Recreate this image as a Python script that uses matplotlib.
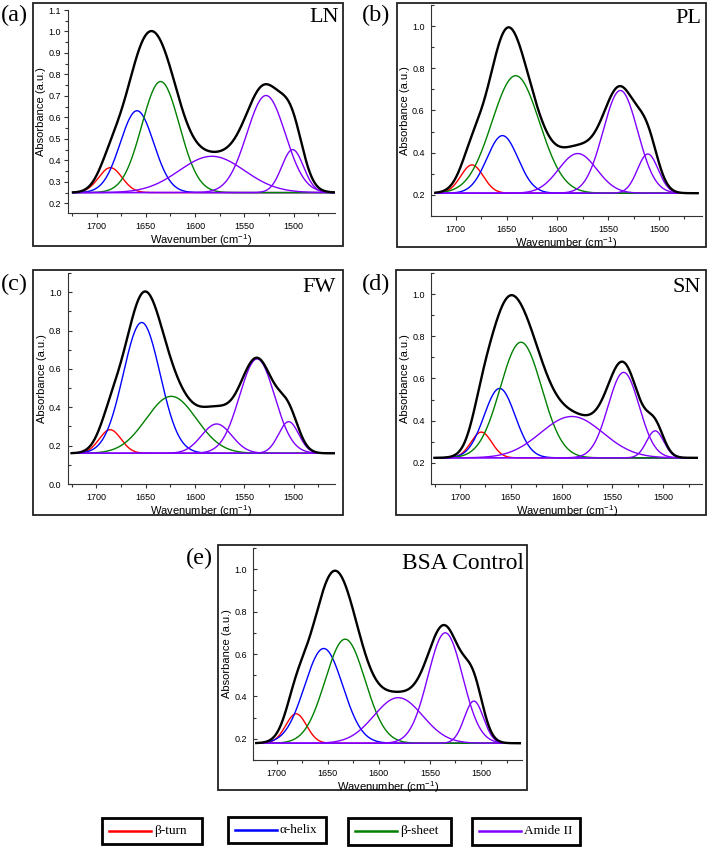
import numpy as np
import matplotlib
matplotlib.use('Agg')
import matplotlib.pyplot as plt
from matplotlib.patches import Rectangle
from matplotlib.lines import Line2D
from matplotlib.ticker import MultipleLocator, FormatStrFormatter

# ---------------- data ----------------
structures = ['β-turn', 'α-helix', 'β-sheet', 'Amide II']
struct_colors = ['#FF0000', '#0000FF', '#008000', '#8000FF']
component_struct = [0, 1, 2, 3, 3, 3]   # structure of each fitted band

panel_letters = ['(a)', '(b)', '(c)', '(d)', '(e)']
panel_names = ['LN', 'PL', 'FW', 'SN', 'BSA Control']

# band centres (cm-1), band maxima (absorbance), band FWHM (cm-1), baseline
ln_centers = [1686, 1659, 1635, 1583, 1528, 1501]
ln_peaks   = [0.366, 0.631, 0.767, 0.419, 0.702, 0.450]
ln_fwhm    = [28, 40, 45, 78, 46, 26]
ln_base    = 0.25

pl_centers = [1684, 1654, 1641, 1580, 1538, 1511]
pl_peaks   = [0.342, 0.481, 0.765, 0.396, 0.695, 0.394]
pl_fwhm    = [26, 36, 55, 44, 40, 24]
pl_base    = 0.208

fw_centers = [1686, 1654, 1624, 1578, 1537, 1505]
fw_peaks   = [0.283, 0.842, 0.457, 0.313, 0.652, 0.325]
fw_fwhm    = [26, 44, 60, 36, 42, 24]
fw_base    = 0.160

sn_centers = [1679, 1661, 1640, 1590, 1539, 1508]
sn_peaks   = [0.346, 0.553, 0.772, 0.420, 0.629, 0.352]
sn_fwhm    = [24, 36, 48, 72, 36, 20]
sn_base    = 0.224

bsa_centers = [1681, 1654, 1633, 1581, 1535, 1507]
bsa_peaks   = [0.318, 0.626, 0.670, 0.394, 0.700, 0.378]
bsa_fwhm    = [24, 44, 46, 56, 40, 22]
bsa_base    = 0.179

# spectral range of each panel (cm-1)
x_start = [1724, 1720, 1725, 1725, 1720]
x_end   = [1459, 1462, 1458, 1467, 1462]

all_centers = [ln_centers, pl_centers, fw_centers, sn_centers, bsa_centers]
all_peaks = [ln_peaks, pl_peaks, fw_peaks, sn_peaks, bsa_peaks]
all_fwhm = [ln_fwhm, pl_fwhm, fw_fwhm, sn_fwhm, bsa_fwhm]
all_base = [ln_base, pl_base, fw_base, sn_base, bsa_base]

# ---------------- layout (pixels of the 708x847 figure) ----------------
W, H = 708, 847
frames = [(33, 3, 343, 246), (397, 3, 706, 247), (33, 270, 343, 515),
          (396, 270, 706, 515), (218, 545, 527, 790)]
axes_px = [(68, 335, 10, 213), (431, 702, 5, 216), (67.7, 335, 273, 484),
           (431.3, 702, 273, 484), (253.3, 522, 548, 760)]
xlims = [(1729, 1458), (1724.3, 1457.7), (1729, 1458), (1728.2, 1461.9), (1722.9, 1459.9)]
ylims = [(0.155, 1.1), (0.1, 1.1), (0.0, 1.1), (0.1, 1.1), (0.1, 1.1)]
ymaj = [0.1, 0.2, 0.2, 0.2, 0.2]
ymin = [0.05, 0.1, 0.1, 0.1, 0.1]
letter_pos = [(1, 15), (362, 15), (1, 284), (362, 284), (186, 558)]
name_pos = [(339, 21.5), (701, 23), (336, 291.5), (701, 292), (524, 568.5)]
name_size = [16, 16, 16, 16, 16.8]

fig = plt.figure(figsize=(W / 100, H / 100), dpi=100)
fig.patch.set_facecolor('white')

def fx(px):
    return px / W

def fy(py):
    return 1 - py / H

sans = ['Liberation Sans', 'DejaVu Sans']
serif = ['Liberation Serif', 'DejaVu Serif']
plt.rcParams['font.family'] = sans
plt.rcParams['mathtext.fontset'] = 'custom'
plt.rcParams['mathtext.rm'] = 'Liberation Sans'

for i in range(5):
    # frame around each panel
    x0, y0, x1, y1 = frames[i]
    fig.add_artist(Rectangle((fx(x0), fy(y1)), fx(x1) - fx(x0), fy(y0) - fy(y1),
                             transform=fig.transFigure, fill=False,
                             edgecolor='#222222', linewidth=1.3, zorder=0))
    l, r, t, b = axes_px[i]
    ax = fig.add_axes([fx(l), fy(b), fx(r) - fx(l), fy(t) - fy(b)])
    ax.patch.set_alpha(0)
    for s in ['top', 'right']:
        ax.spines[s].set_visible(False)
    for s in ['left', 'bottom']:
        ax.spines[s].set_color('#333333')
        ax.spines[s].set_linewidth(0.8)

    x = np.linspace(x_start[i], x_end[i], 800)
    base = all_base[i]
    total = np.full_like(x, base)
    comps = []
    for c, p, w in zip(all_centers[i], all_peaks[i], all_fwhm[i]):
        g = (p - base) * np.exp(-4 * np.log(2) * (x - c) ** 2 / w ** 2)
        comps.append(base + g)
        total += g
    for k, yk in enumerate(comps):
        ax.plot(x, yk, color=struct_colors[component_struct[k]], lw=1.0, zorder=2)
    ax.plot(x, total, color='black', lw=1.7, zorder=3)

    ax.set_xlim(*xlims[i])
    ax.set_ylim(*ylims[i])
    ax.xaxis.set_major_locator(MultipleLocator(50))
    ax.xaxis.set_minor_locator(MultipleLocator(25))
    ax.yaxis.set_major_locator(MultipleLocator(ymaj[i]))
    ax.yaxis.set_minor_locator(MultipleLocator(ymin[i]))
    ax.yaxis.set_major_formatter(FormatStrFormatter('%.1f'))
    ax.tick_params(axis='x', which='major', direction='out', length=3, width=0.8,
                   color='#333333', labelsize=6.5, pad=3.5)
    ax.tick_params(axis='x', which='minor', direction='out', length=2, width=0.8,
                   color='#333333')
    ydir = 'out' if i == 0 else 'in'
    ax.tick_params(axis='y', which='major', direction=ydir, length=3, width=0.8,
                   color='#333333', labelsize=6.5, pad=2.2 if i == 0 else 4.5)
    ax.tick_params(axis='y', which='minor', direction=ydir, length=2, width=0.8,
                   color='#333333')
    ax.set_xlabel(r'Wavenumber (cm$^{\mathregular{-1}}$)', fontsize=8, labelpad=1)
    ax.set_ylabel('Absorbance (a.u.)', fontsize=8, labelpad=1.5)

    lx, ly = letter_pos[i]
    fig.text(fx(lx), fy(ly), panel_letters[i], family=serif, fontsize=17.5,
             ha='left', va='center')
    nx, ny = name_pos[i]
    fig.text(fx(nx), fy(ny), panel_names[i], family=serif, fontsize=name_size[i],
             ha='right', va='baseline')

# ---------------- legend boxes ----------------
boxes = [(101.7, 817.7, 201.7, 844.3), (228, 816.7, 326, 843),
         (348, 817.7, 450.7, 845), (471.7, 817.7, 580, 845)]
for k, (bx0, by0, bx1, by1) in enumerate(boxes):
    fig.add_artist(Rectangle((fx(bx0), fy(by1)), fx(bx1) - fx(bx0), fy(by0) - fy(by1),
                             transform=fig.transFigure, fill=False,
                             edgecolor='black', linewidth=2.0))
    cy = (by0 + by1) / 2
    fig.add_artist(Line2D([fx(bx0 + 7), fx(bx0 + 49)], [fy(cy), fy(cy)],
                          transform=fig.transFigure, color=struct_colors[k], lw=1.8))
    fig.text(fx(bx0 + 52), fy(cy), structures[k], family=serif, fontsize=9.5,
             ha='left', va='center')

fig.savefig('out.png', dpi=100, facecolor='white')
